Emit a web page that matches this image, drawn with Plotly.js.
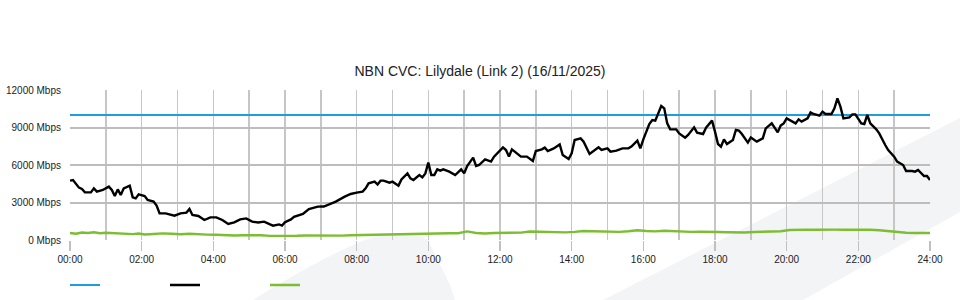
<!DOCTYPE html>
<html>
<head>
<meta charset="utf-8">
<script src="https://cdn.plot.ly/plotly-3.0.1.min.js"></script>
<style>html,body{margin:0;padding:0;background:#fff;}#chart{width:960px;height:300px;}</style>
</head>
<body>
<div id="chart"></div>
<script>
const chartTitle = "NBN CVC: Lilydale (Link 2) (16/11/2025)";

const capacityTimes = ["00:00", "24:00"];
const capacityMbps = [10000, 10000];

const downTimes = ["00:00","00:05","00:15","00:20","00:25","00:35","00:40","00:45","00:55","01:05","01:10","01:15","01:20","01:25","01:30","01:40","01:45","01:50","01:55","02:05","02:10","02:20","02:25","02:30","02:40","02:45","02:55","03:05","03:15","03:20","03:25","03:35","03:45","03:55","04:05","04:15","04:25","04:35","04:45","04:55","05:05","05:15","05:25","05:35","05:40","05:50","05:55","06:00","06:10","06:15","06:30","06:40","06:55","07:05","07:15","07:25","07:40","07:50","08:00","08:10","08:15","08:20","08:30","08:35","08:40","08:45","08:55","09:00","09:10","09:15","09:25","09:30","09:35","09:45","09:50","09:55","10:00","10:05","10:10","10:15","10:20","10:25","10:35","10:45","10:55","11:00","11:05","11:15","11:20","11:25","11:35","11:45","11:50","11:55","12:05","12:10","12:15","12:20","12:30","12:35","12:45","12:55","13:00","13:10","13:15","13:20","13:30","13:40","13:45","13:55","14:00","14:05","14:15","14:20","14:30","14:35","14:45","14:50","15:00","15:05","15:15","15:25","15:35","15:40","15:50","15:55","16:00","16:10","16:15","16:20","16:30","16:35","16:40","16:45","16:55","17:00","17:10","17:15","17:25","17:30","17:40","17:45","17:55","18:00","18:05","18:10","18:15","18:20","18:30","18:35","18:40","18:45","18:55","19:00","19:10","19:20","19:25","19:35","19:40","19:45","19:50","19:55","20:00","20:05","20:15","20:20","20:25","20:35","20:40","20:45","20:55","21:00","21:05","21:15","21:20","21:25","21:30","21:35","21:45","21:50","21:55","22:05","22:10","22:15","22:20","22:30","22:35","22:45","22:50","23:00","23:05","23:15","23:20","23:30","23:35","23:40","23:45","23:50","23:55","24:00"];
const downMbps = [4750,4800,4190,4080,3810,3810,4130,3870,4000,4270,4000,3520,4050,3600,4130,4350,3410,3330,3650,3520,3200,3070,2750,2130,2130,2080,1950,2130,2190,2480,2000,1920,1600,1810,1810,1600,1280,1410,1650,1730,1470,1400,1470,1250,1150,1250,1150,1420,1650,1850,2080,2480,2670,2680,2870,3070,3470,3680,3790,3870,4130,4530,4670,4450,4750,4750,4590,4670,4350,4850,5330,4930,4800,5200,5010,5330,6190,5200,5200,5650,5550,5650,5470,5200,5650,5330,5920,6590,5920,6000,6450,6270,6670,6930,7410,7200,6670,7250,6850,6670,6670,6320,7120,7250,7390,7120,7330,7650,6800,6480,6930,8000,8130,7870,6880,7070,7410,7200,7330,7070,7150,7330,7330,7470,7950,7330,8050,9280,9600,9550,10720,10530,9330,8850,8850,8530,8190,8400,9010,8590,8480,8990,9550,8670,7680,7470,8050,7680,8000,8800,8750,8480,7790,8200,7870,8130,8930,9330,9010,8610,9150,9330,9730,9600,9330,9650,9470,9730,10210,10080,9950,10270,10080,10080,10530,11330,10670,9730,9810,10050,10050,9330,9280,10000,9330,8850,8530,7600,7200,6670,6270,6000,5520,5520,5470,5600,5390,5120,5120,4800];

const upTimes = ["00:00","00:10","00:20","00:30","00:40","00:50","01:00","01:15","01:30","01:45","01:55","02:05","02:20","02:35","02:50","03:05","03:20","03:35","03:50","04:05","04:20","04:35","04:50","05:05","05:20","05:35","05:50","06:05","06:20","06:35","06:50","07:05","07:20","07:35","07:50","08:05","08:20","08:35","08:50","09:05","09:20","09:35","09:50","10:05","10:20","10:35","10:50","11:05","11:20","11:35","11:50","12:05","12:20","12:35","12:50","13:05","13:20","13:35","13:50","14:05","14:20","14:35","14:50","15:05","15:20","15:35","15:50","16:05","16:20","16:35","16:50","17:05","17:20","17:35","17:50","18:05","18:20","18:35","18:50","19:05","19:20","19:35","19:50","20:05","20:20","20:35","20:50","21:05","21:20","21:35","21:50","22:05","22:20","22:35","22:50","23:05","23:20","23:35","23:50","24:00"];
const upMbps = [560,500,600,560,620,540,580,540,540,470,520,440,480,530,500,460,500,440,430,420,380,360,380,400,380,330,320,370,340,360,350,340,370,350,380,400,420,410,450,470,470,500,510,520,530,540,540,690,560,520,560,560,540,590,680,650,620,600,610,650,720,700,690,690,650,700,780,720,690,740,700,640,650,660,680,640,620,590,600,640,650,690,700,800,840,830,820,850,830,820,840,830,820,780,700,650,580,560,560,560];

const hourTickLabels = ["00:00","02:00","04:00","06:00","08:00","10:00","12:00","14:00","16:00","18:00","20:00","22:00","24:00"];

function toHours(t) { const p = t.split(":"); return Number(p[0]) + Number(p[1]) / 60; }

const M = { l: 70, r: 30, t: 90, b: 60, autoexpand: false };
const W = 960, H = 300;
const pw = W - M.l - M.r, ph = H - M.t - M.b;
function px(x) { return (x - M.l) / pw; }
function py(y) { return (H - M.b - y) / ph; }
function pathOf(pts) {
  return pts.map(function (p) { return p[0] + px(p[1]).toFixed(4) + "," + py(p[2]).toFixed(4); }).join(" ") + " Z";
}

const labelalias = {};
hourTickLabels.forEach(function (lab) { labelalias[String(toHours(lab))] = lab; });

const traces = [
  { x: capacityTimes.map(toHours), y: capacityMbps, type: "scatter", mode: "lines", name: " ",
    line: { color: "#1e9fdc", width: 2.2 }, hoverinfo: "skip" },
  { x: downTimes.map(toHours), y: downMbps, type: "scatter", mode: "lines", name: " ",
    line: { color: "#000000", width: 2.4 } },
  { x: upTimes.map(toHours), y: upMbps, type: "scatter", mode: "lines", name: " ",
    line: { color: "#7cbd31", width: 2.4 } }
];

const layout = {
  width: W, height: H,
  margin: M,
  paper_bgcolor: "#ffffff",
  plot_bgcolor: "rgba(0,0,0,0)",
  font: { family: "Liberation Sans, Arial, sans-serif", size: 10, color: "#333" },
  title: { text: chartTitle, x: 0.5, xref: "container", xanchor: "center", y: 1 - 71 / 300, yanchor: "middle",
    font: { family: "Liberation Sans, Arial, sans-serif", size: 14, color: "#222" } },
  xaxis: {
    range: [0, 24], tickmode: "linear", tick0: 0, dtick: 2,
    labelalias: labelalias,
    showgrid: true, gridcolor: "#c6c6c6", gridwidth: 1.5,
    minor: { dtick: 1, showgrid: true, gridcolor: "#c6c6c6", gridwidth: 1.5, ticks: "" },
    ticks: "outside", ticklen: 10, tickcolor: "#c0c0c0", tickwidth: 1.5,
    zeroline: false, showline: false, fixedrange: true,
    tickfont: { size: 10, color: "#222" }
  },
  yaxis: {
    range: [0, 12000], tickmode: "linear", tick0: 0, dtick: 3000, tickformat: "d",
    ticksuffix: " Mbps", showgrid: true, gridcolor: "#bdbdbd", gridwidth: 2,
    zeroline: false, showline: false, ticks: "", ticklabelstandoff: 8, fixedrange: true,
    tickfont: { size: 10, color: "#222" }
  },
  showlegend: true,
  legend: { orientation: "h", x: px(65), xanchor: "left", y: py(285), yanchor: "middle",
    entrywidth: 55, entrywidthmode: "pixels", font: { size: 10 }, bgcolor: "rgba(0,0,0,0)" },
  shapes: [
    { type: "path", xref: "paper", yref: "paper", layer: "below", line: { width: 0 }, fillcolor: "#f3f4f6",
      path: pathOf([["M", 603, 300], ["L", 960, 118], ["L", 960, 212], ["L", 803, 300]]) },
    { type: "path", xref: "paper", yref: "paper", layer: "below", line: { width: 0 }, fillcolor: "#f3f4f6",
      path: "M" + px(253) + "," + py(300) + " Q" + px(320) + "," + py(258) + " " + px(365) + "," + py(240) +
            " Q" + px(405) + "," + py(226) + " " + px(428) + "," + py(240) +
            " L" + px(450) + "," + py(285) + " L" + px(455) + "," + py(300) + " Z" }
  ]
};

Plotly.newPlot("chart", traces, layout, { displayModeBar: false, staticPlot: true });
</script>
</body>
</html>
